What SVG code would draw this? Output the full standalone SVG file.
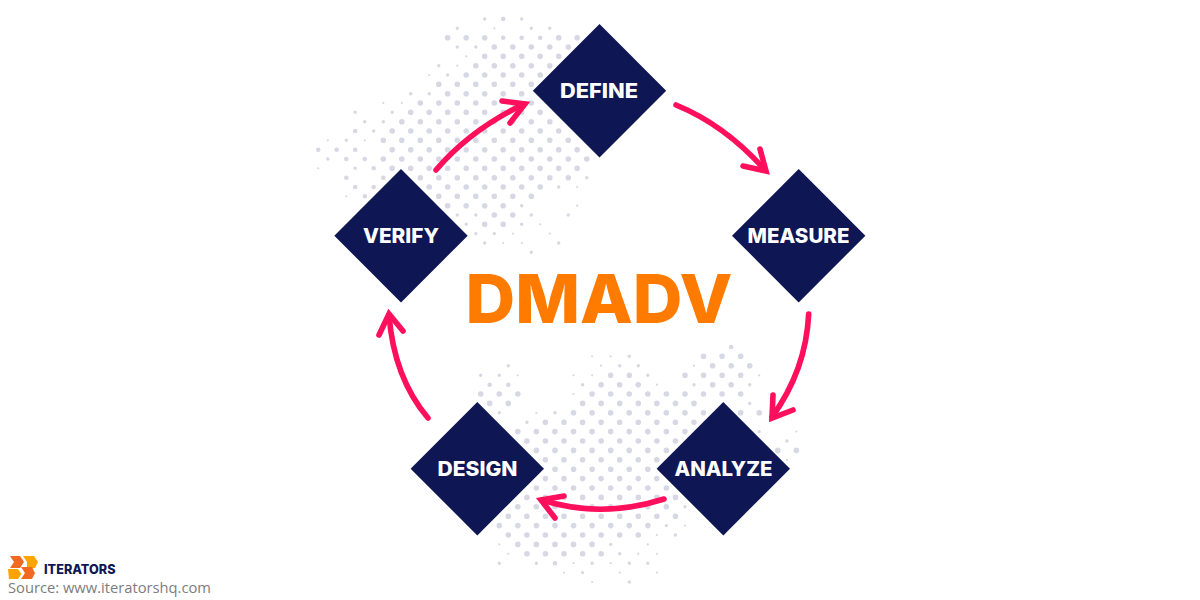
<svg xmlns="http://www.w3.org/2000/svg" width="1200" height="600" viewBox="0 0 1200 600">
<style>
.d{fill:none;stroke:#d7d8e3;stroke-linecap:round}
.big{stroke-width:5.6;stroke-dasharray:0 18.5}
.lo{stroke-width:5.6;stroke-dasharray:0 18.57}
.med{stroke-width:4.6}
.sm{stroke-width:3.4}
.ti{stroke-width:2.2}
.node{fill:#0f1654}
.lbl{font-family:"Inter","Liberation Sans",Arial,sans-serif;font-weight:800;font-size:20px;fill:#fff;text-anchor:middle}
.arr{fill:none;stroke:#ff0f5c;stroke-width:5.6;stroke-linecap:round;stroke-linejoin:miter}
</style>
<g id="dots">
<path class="d big" d="M447.700 37.700h37.100M558.700 37.700h18.600M494.300 47h74.100M484.700 56.300h74.100M475.800 65.700h74.100M466.200 75h92.600M438.800 84.300h92.600M447.700 93.700h74.100M420.300 103h111.100M410.700 112.300h148.100M401.800 121.700h148.100M392.200 131h166.600M383.300 140.300h185.100M392.200 149.700h185.100M383.300 159h203.600M392.200 168.300h185.100M420.300 177.700h148.100M429.200 187h111.100M438.800 196.300h92.600M447.700 205.700h55.600M494.300 215h18.600M484.700 224.300h18.600"/>
<path class="d lo" d="M703.500 356.300h37.200M712.600 365.700h37.200M610.700 375.300h18.700M685 375.300h55.800M601.100 384.700h37.200M675.400 384.700h0M712.600 384.700h18.600M480.700 394h37.200M592.100 394h148.600M489.700 403.400h18.600M582.600 403.400h111.500M731.100 403.400h0M517.800 412.800h0M573.500 412.800h130M740.700 412.800h18.600M508.300 422.200h0M545.400 422.200h148.600M517.800 431.600h167.200M526.900 441h148.600M768.300 441h0M536.400 450.400h130M777.800 450.400h18.600M545.400 459.800h111.500M555 469.200h92.900M545.400 478.600h111.500M536.400 488h130M526.900 497.400h148.600M517.800 506.800h148.600M508.300 516.200h167.200M499.300 525.600h148.600M508.300 535h130M517.800 544.400h74.300M629.300 544.400h0M526.900 553.800h74.300"/>
<path class="d med" d="M503.200 19h0M521.700 37.700h0M503.200 37.700h0M540.200 37.700h0M355.200 131h0M318.200 149.700h0M336.700 149.700h0M355.200 149.700h0M346.300 159h0M364.800 159h0M373.700 168.300h0M346.300 177.700h0M383.300 177.700h0M355.200 187h0M373.700 187h0M364.800 196.300h0M731.100 347h0M489.700 384.700h0M508.300 384.700h0M555 563.200h0"/>
<path class="d sm" d="M484.700 19h0M521.700 19h0M457.300 28.300h0M531.300 28.300h0M549.800 28.300h0M457.300 47h0M475.800 47h0M438.800 65.700h0M447.700 75h0M410.700 93.700h0M429.200 93.700h0M355.200 112.300h0M392.200 112.300h0M364.800 121.700h0M383.300 121.700h0M373.700 131h0M346.300 140.300h0M327.800 159h0M355.200 168.300h0M586.800 177.700h0M558.700 187h0M521.700 205.700h0M457.300 215h0M475.800 215h0M531.300 215h0M568.300 215h0M466.200 224.300h0M521.700 224.300h0M475.800 233.600h0M494.300 233.600h0M484.700 243h0M558.700 243h0M531.300 252.300h0M629.300 356.300h0M508.300 365.700h0M619.700 365.700h0M638.300 365.700h0M480.700 375.300h0M499.300 375.300h0M647.800 375.300h0M582.600 384.700h0M694 384.700h0M749.700 384.700h0M749.700 403.400h0M499.300 412.800h0M555 412.800h0M526.900 422.200h0M759.200 431.600h0M786.900 441h0M685 506.800h0M666.400 525.600h0M675.400 535h0M610.700 544.400h0M619.700 553.800h0M499.300 563.200h0M536.400 563.200h0M592.100 563.200h0M629.300 563.200h0M647.800 563.200h0M582.600 572.600h0M629.300 582h0"/>
<path class="d ti" d="M494.300 28.300h0M466.200 56.300h0M457.300 65.700h0M429.200 75h0M383.300 103h0M401.800 103h0M327.800 140.300h0M364.800 140.300h0M318.200 168.300h0M577.200 187h0M346.300 196.300h0M577.200 205.700h0M540.200 224.300h0M512.800 233.600h0M549.800 233.600h0M503.200 243h0M522 243h0M592.100 356.300h0M610.700 356.300h0M601.100 365.700h0M694 365.700h0M517.800 375.300h0M573.500 375.300h0M592.100 375.300h0M759.200 375.300h0M656.900 384.700h0M573.500 394h0M536.400 412.800h0M796.400 431.600h0M786.900 459.800h0M685 525.600h0M656.900 535h0M499.300 544.400h0M647.800 544.400h0M508.300 553.800h0M638.300 553.800h0M656.900 553.800h0M573.500 563.200h0M610.700 563.200h0M564 572.600h0M619.700 572.600h0M656.900 572.600h0M592.100 582h0"/>
</g>
<g id="connectors">
<g class="arr">
<path d="M436 170Q470 130 524 104"/><path d="M502 101L525 104L510 123"/>
<path d="M676 105Q725 125 765 170"/><path d="M743 166L766 171L760 149"/>
<path d="M808.700 314Q806 370 772 417"/><path d="M773 395L772 418L793 410"/>
<path d="M664 499Q601 519 542 500"/><path d="M564 496L541 500L555 518"/>
<path d="M428 418Q394 378 389 315"/><path d="M379 335L389 314L403 331"/>
</g>
</g>
<g id="define"><path class="node" d="M599.500 24L666.200 90.700L599.500 157.400L532.800 90.700Z"/><text class="lbl" x="599" y="98" textLength="78" lengthAdjust="spacingAndGlyphs">DEFINE</text></g>
<g id="measure"><path class="node" d="M798.700 169L865.400 235.700L798.700 302.400L732 235.700Z"/><text class="lbl" x="798.500" y="243" textLength="102" lengthAdjust="spacingAndGlyphs">MEASURE</text></g>
<g id="analyze"><path class="node" d="M723.300 402L790 468.700L723.300 535.400L656.600 468.700Z"/><text class="lbl" x="723.500" y="476" textLength="98" lengthAdjust="spacingAndGlyphs">ANALYZE</text></g>
<g id="design"><path class="node" d="M477.300 402L544 468.700L477.300 535.400L410.600 468.700Z"/><text class="lbl" x="477.500" y="476" textLength="80" lengthAdjust="spacingAndGlyphs">DESIGN</text></g>
<g id="verify"><path class="node" d="M401 169L467.700 235.700L401 302.400L334.300 235.700Z"/><text class="lbl" x="401" y="243" textLength="76" lengthAdjust="spacingAndGlyphs">VERIFY</text></g>
<text id="title" x="599" y="323" font-family="Inter,'Liberation Sans',Arial,sans-serif" font-weight="800" font-size="68" fill="#ff7b00" text-anchor="middle" textLength="267" lengthAdjust="spacingAndGlyphs">DMADV</text>
<g id="logo">
<path fill="#f26a21" d="M10 556H20L24 562L20 568L10 568L14 562Z"/>
<path fill="#ffa400" d="M23 556H34L38 562L35 568H27L27 562Z"/>
<path fill="#ffa400" d="M8 569H18L21.500 574L18 579H9Z"/>
<path fill="#f26a21" d="M21 567H32L35 573L32 579H21L25 573Z"/>
<text x="44" y="573.500" font-family="'Inter','Liberation Sans',Arial,sans-serif" font-weight="800" font-size="13" fill="#0f1654" textLength="71.500" lengthAdjust="spacingAndGlyphs">ITERATORS</text>
<text x="8" y="593" font-family="'Open Sans','Liberation Sans',Arial,sans-serif" font-size="15" fill="#7d7d7d" textLength="203" lengthAdjust="spacingAndGlyphs">Source: www.iteratorshq.com</text>
</g>
</svg>
